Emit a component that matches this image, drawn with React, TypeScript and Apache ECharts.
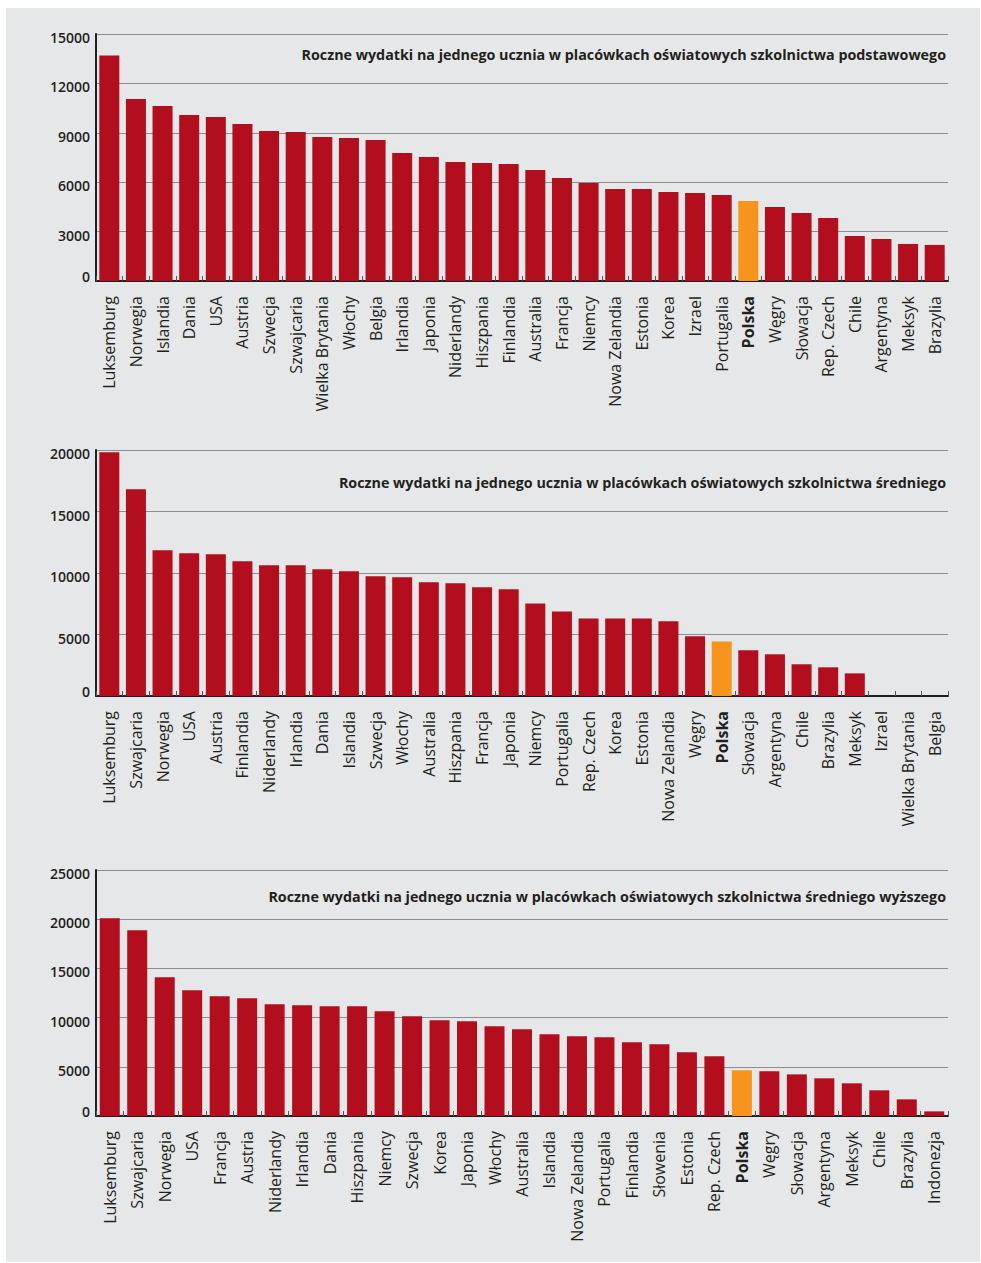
import React, { useEffect, useRef } from "react";
import * as echarts from "echarts";

const titles = [
  "Roczne wydatki na jednego ucznia w placówkach oświatowych szkolnictwa podstawowego",
  "Roczne wydatki na jednego ucznia w placówkach oświatowych szkolnictwa średniego",
  "Roczne wydatki na jednego ucznia w placówkach oświatowych szkolnictwa średniego wyższego",
];

const categories1 = ["Luksemburg", "Norwegia", "Islandia", "Dania", "USA", "Austria", "Szwecja", "Szwajcaria", "Wielka Brytania", "Włochy", "Belgia", "Irlandia", "Japonia", "Niderlandy", "Hiszpania", "Finlandia", "Australia", "Francja", "Niemcy", "Nowa Zelandia", "Estonia", "Korea", "Izrael", "Portugalia", "Polska", "Węgry", "Słowacja", "Rep. Czech", "Chile", "Argentyna", "Meksyk", "Brazylia"];
const values1 = [13700, 11050, 10630, 10080, 9960, 9530, 9110, 9050, 8750, 8680, 8560, 7770, 7530, 7230, 7170, 7100, 6740, 6260, 5950, 5590, 5590, 5410, 5340, 5220, 4860, 4490, 4130, 3830, 2730, 2550, 2250, 2190];

const categories2 = ["Luksemburg", "Szwajcaria", "Norwegia", "USA", "Austria", "Finlandia", "Niderlandy", "Irlandia", "Dania", "Islandia", "Szwecja", "Włochy", "Australia", "Hiszpania", "Francja", "Japonia", "Niemcy", "Portugalia", "Rep. Czech", "Korea", "Estonia", "Nowa Zelandia", "Węgry", "Polska", "Słowacja", "Argentyna", "Chile", "Brazylia", "Meksyk", "Izrael", "Wielka Brytania", "Belgia"];
const values2 = [19810, 16800, 11840, 11600, 11520, 10950, 10620, 10620, 10300, 10140, 9730, 9650, 9240, 9160, 8840, 8670, 7530, 6880, 6310, 6310, 6310, 6070, 4850, 4440, 3710, 3390, 2580, 2330, 1840, null, null, null];

const categories3 = ["Luksemburg", "Szwajcaria", "Norwegia", "USA", "Francja", "Austria", "Niderlandy", "Irlandia", "Dania", "Hiszpania", "Niemcy", "Szwecja", "Korea", "Japonia", "Włochy", "Australia", "Islandia", "Nowa Zelandia", "Portugalia", "Finlandia", "Słowenia", "Estonia", "Rep. Czech", "Polska", "Węgry", "Słowacja", "Argentyna", "Meksyk", "Chile", "Brazylia", "Indonezja"];
const values3 = [20090, 18870, 14090, 12770, 12160, 11960, 11350, 11250, 11150, 11150, 10640, 10130, 9720, 9620, 9110, 8810, 8300, 8100, 8000, 7490, 7280, 6470, 6060, 4640, 4540, 4230, 3830, 3320, 2610, 1690, 470];

const yMax = [15000, 20000, 25000];
const yInterval = [3000, 5000, 5000];

const RED = "#b20e1e";
const ORANGE = "#f7941d";
const DARK = "#231f20";
const FONT = "Open Sans";

export default function App() {
  const ref = useRef<HTMLDivElement>(null);
  useEffect(() => {
    const chart = echarts.init(ref.current!, null, { renderer: "svg" });
    const cats = [categories1, categories2, categories3];
    const vals = [values1, values2, values3];
    const tops = [34, 450, 870];
    const heights = [247, 246, 246];
    const titleY = [54, 482, 896];

    const grids = tops.map((t, i) => ({ left: 96, right: 33, top: t, height: heights[i], containLabel: false }));
    const xAxes = cats.map((c, i) => ({
      type: "category",
      gridIndex: i,
      data: c,
      axisLine: { show: true, lineStyle: { color: DARK, width: 2 } },
      axisTick: { show: true, inside: true, length: 5, lineStyle: { color: "#555", width: 1 } },
      axisLabel: {
        rotate: 90,
        interval: 0,
        margin: 15,
        fontFamily: FONT,
        fontSize: 16,
        color: DARK,
        formatter: (v: string) => (v === "Polska" ? "{b|Polska}" : v),
        rich: { b: { fontWeight: "bold", fontFamily: FONT, fontSize: 16, color: DARK } },
      },
    }));
    const yAxes = yMax.map((m, i) => ({
      type: "value",
      gridIndex: i,
      min: 0,
      max: m,
      interval: yInterval[i],
      axisLine: { show: true, lineStyle: { color: DARK, width: 2 } },
      axisTick: { show: false },
      splitLine: { show: true, lineStyle: { color: "#8c8d8f", width: 1.2 } },
      axisLabel: {
        margin: 6,
        formatter: (v: number) => (v === 0 ? "{z|0}" : "{a|" + v + "}"),
        rich: {
          a: { fontFamily: FONT, fontWeight: 600, fontSize: 14, color: DARK, padding: [7, 0, 0, 0] },
          z: { fontFamily: FONT, fontWeight: 600, fontSize: 14, color: DARK, padding: [0, 0, 9, 0] },
        },
      },
    }));
    const series = vals.map((v, i) => ({
      type: "bar",
      xAxisIndex: i,
      yAxisIndex: i,
      barWidth: 20,
      data: v.map((val, j) =>
        val === null
          ? "-"
          : { value: val, itemStyle: { color: cats[i][j] === "Polska" ? ORANGE : RED } }
      ),
    }));

    chart.setOption({
      animation: false,
      backgroundColor: "#ffffff",
      graphic: [
        { type: "rect", z: -10, shape: { x: 6, y: 8, width: 974, height: 1254 }, style: { fill: "#e6e7e8" } },
        ...titles.map((t, i) => ({
          type: "text",
          x: 946,
          y: titleY[i],
          z: 10,
          style: {
            text: t,
            align: "right",
            verticalAlign: "middle",
            fontFamily: FONT,
            fontWeight: "bold",
            fontSize: 14.3,
            fill: DARK,
          },
        })),
      ],
      grid: grids,
      xAxis: xAxes,
      yAxis: yAxes,
      series,
    });
    return () => chart.dispose();
  }, []);
  return (
    <div
      ref={ref}
      style={{ position: "absolute", left: 0, top: 0, width: 981, height: 1263 }}
    />
  );
}
